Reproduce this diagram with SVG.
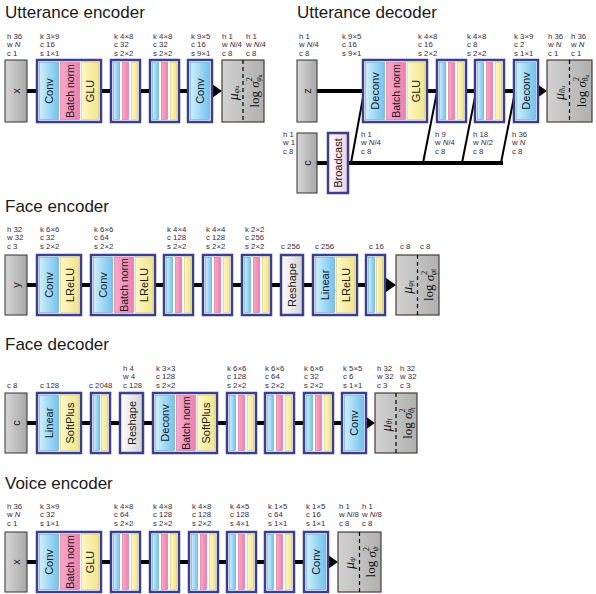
<svg xmlns="http://www.w3.org/2000/svg" width="596" height="594" viewBox="0 0 596 594">
<defs>
<linearGradient id="gb" x1="0" y1="0" x2="1" y2="0"><stop offset="0" stop-color="#cdeffc"/><stop offset="1" stop-color="#74c2ec"/></linearGradient>
<linearGradient id="gp" x1="0" y1="0" x2="1" y2="0"><stop offset="0" stop-color="#f8a9c9"/><stop offset="1" stop-color="#ef80ad"/></linearGradient>
<linearGradient id="gy" x1="0" y1="0" x2="1" y2="0"><stop offset="0" stop-color="#fdf8c6"/><stop offset="1" stop-color="#f3e48c"/></linearGradient>
<linearGradient id="gg" x1="0" y1="0" x2="1" y2="0"><stop offset="0" stop-color="#d6d6d6"/><stop offset="1" stop-color="#a8a8a8"/></linearGradient>
<linearGradient id="go" x1="0" y1="0" x2="1" y2="0"><stop offset="0" stop-color="#d2d2d2"/><stop offset="1" stop-color="#b0b0b0"/></linearGradient>
<linearGradient id="gr" x1="0" y1="0" x2="1" y2="0"><stop offset="0" stop-color="#ffffff"/><stop offset="1" stop-color="#d2d2d2"/></linearGradient>
<linearGradient id="gc" x1="0" y1="0" x2="1" y2="0"><stop offset="0" stop-color="#ffffff"/><stop offset="1" stop-color="#f0d0e0"/></linearGradient>
<marker id="ah" markerUnits="userSpaceOnUse" markerWidth="10" markerHeight="14" viewBox="0 0 10 14" refX="0" refY="7" orient="auto"><path d="M0,0 L10,7 L0,14 Z" fill="#000"/></marker>
</defs>
<style>
.t{font-family:"Liberation Sans",Arial,sans-serif;font-size:17px;fill:#1a1a1a}
.l{font-family:"Liberation Sans",Arial,sans-serif;font-size:7.8px;fill:#3a2a3a}
.r{font-family:"Liberation Sans",Arial,sans-serif;font-size:11px;fill:#1a1a1a;text-anchor:middle;dominant-baseline:central}
.bn{font-size:10.5px}
.g{fill:#fff;stroke:#3c3f8e;stroke-width:2.5}
.rs{fill:url(#gr);stroke:#3c3f8e;stroke-width:2.5}
.bc{fill:url(#gc);stroke:#3c3f8e;stroke-width:2.5}
.b{fill:url(#gb);stroke:#5aa6d0;stroke-width:.6}
.p{fill:url(#gp);stroke:#d86a98;stroke-width:.6}
.y{fill:url(#gy);stroke:#d8c870;stroke-width:.6}
.in{fill:url(#gg);stroke:#333;stroke-width:1}
.out{fill:url(#go);stroke:#4a3a35;stroke-width:1.2}
.dash{stroke:#000;stroke-width:1.2;stroke-dasharray:4 3}
.ln{stroke:#000;stroke-width:4;fill:none}
.ar{stroke:#000;stroke-width:4;fill:none;marker-end:url(#ah)}
.dg{stroke:#000;stroke-width:2;fill:none}
.m{font-family:"Liberation Serif","Times New Roman",serif;font-size:13px;fill:#111;text-anchor:middle;dominant-baseline:central}
.i{font-style:italic}
</style>
<rect width="596" height="594" fill="#fff"/>

<text class="t" x="5" y="18">Utterance encoder</text>
<text class="t" x="297" y="18">Utterance decoder</text>
<text class="t" x="5" y="212">Face encoder</text>
<text class="t" x="5" y="350">Face decoder</text>
<text class="t" x="5" y="489">Voice encoder</text>

<g id="connectors">
<path class="ln" d="M27 91H37M101 91H111M140 91H150M179 91H188"/>
<path class="ar" d="M211 91H212"/>
<path class="ln" d="M317 91H363M427 91H437M466 91H475M504 91H514"/>
<path class="ar" d="M536 91H537"/>
<path class="ln" d="M317 163H328M348 163H503"/>
<path class="dg" d="M351 163L364 92M423 163L437 92M462 163L476 92M501 163L515 92"/>
<path class="ln" d="M27 285H37M81 285H91M155 285H164M193 285H203M232 285H242M271 285H281M303 285H313M357 285H366"/>
<path class="ar" d="M385 285H386"/>
<path class="ln" d="M27 423H37M81 423H91M110 423H120M143 423H153M217 423H227M256 423H265M294 423H304M333 423H342"/>
<path class="ar" d="M364 423H365"/>
<path class="ln" d="M27 562H37M101 562H111M140 562H150M179 562H189M218 562H227M256 562H265M294 562H304"/>
<path class="ar" d="M327 562H328"/>
</g>

<!-- Utterance encoder -->
<g id="ue-x"><rect class="in" x="5" y="60" width="22" height="62"/><text class="r" transform="translate(16,91) rotate(-90)" font-size="12">x</text>
<text class="l" y="38.5"><tspan x="7">h 36</tspan><tspan x="7" dy="8.8">w <tspan class="i">N</tspan></tspan><tspan x="7" dy="8.8">c 1</tspan></text></g>
<g id="ue-conv"><rect class="g" x="37" y="60" width="64" height="62"/><rect class="b" x="39.5" y="62.5" width="19" height="57"/><rect class="p" x="60.5" y="62.5" width="19" height="57"/><rect class="y" x="81.5" y="62.5" width="17" height="57"/>
<text class="r" transform="translate(49,91) rotate(-90)">Conv</text><text class="r bn" transform="translate(70,91) rotate(-90)">Batch norm</text><text class="r" transform="translate(90,91) rotate(-90)">GLU</text>
<text class="l" y="38.5"><tspan x="40">k 3×9</tspan><tspan x="40" dy="8.8">c 16</tspan><tspan x="40" dy="8.8">s 1×1</tspan></text></g>
<g id="ue-s1"><rect class="g" x="111" y="60" width="29" height="62"/><rect class="b" x="113.5" y="62.5" width="6" height="57"/><rect class="p" x="122.5" y="62.5" width="6" height="57"/><rect class="y" x="131.5" y="62.5" width="6" height="57"/>
<text class="l" y="38.5"><tspan x="114">k 4×8</tspan><tspan x="114" dy="8.8">c 32</tspan><tspan x="114" dy="8.8">s 2×2</tspan></text></g>
<g id="ue-s2"><rect class="g" x="150" y="60" width="29" height="62"/><rect class="b" x="152.5" y="62.5" width="6" height="57"/><rect class="p" x="161.5" y="62.5" width="6" height="57"/><rect class="y" x="170.5" y="62.5" width="6" height="57"/>
<text class="l" y="38.5"><tspan x="153">k 4×8</tspan><tspan x="153" dy="8.8">c 32</tspan><tspan x="153" dy="8.8">s 2×2</tspan></text></g>
<g id="ue-conv2"><rect class="g" x="188" y="60" width="24" height="62"/><rect class="b" x="190.5" y="62.5" width="19" height="57"/><text class="r" transform="translate(200,91) rotate(-90)">Conv</text>
<text class="l" y="38.5"><tspan x="191">k 9×5</tspan><tspan x="191" dy="8.8">c 16</tspan><tspan x="191" dy="8.8">s 9×1</tspan></text></g>
<g id="ue-out"><rect class="out" x="222" y="60" width="42" height="62"/><line class="dash" x1="243" y1="60" x2="243" y2="122"/>
<text class="m" transform="translate(232.5,93) rotate(-90)"><tspan class="i" font-size="14">μ</tspan><tspan class="i" font-size="8" dy="3">φ</tspan><tspan font-size="6" dy="1.5">u</tspan></text>
<text class="m" transform="translate(254,91) rotate(-90)">log <tspan class="i">σ</tspan><tspan font-size="8" dy="-5">2</tspan><tspan class="i" font-size="8" dx="-4.5" dy="9">φ</tspan><tspan font-size="6" dy="1.5">u</tspan></text>
<text class="l" y="38.5"><tspan x="222">h 1</tspan><tspan x="222" dy="8.8">w <tspan class="i">N</tspan>/4</tspan><tspan x="222" dy="8.8">c 8</tspan></text>
<text class="l" y="38.5"><tspan x="246">h 1</tspan><tspan x="246" dy="8.8">w <tspan class="i">N</tspan>/4</tspan><tspan x="246" dy="8.8">c 8</tspan></text></g>

<!-- Utterance decoder -->
<g id="ud-z"><rect class="in" x="297" y="60" width="20" height="62"/><text class="r" transform="translate(307,91) rotate(-90)" font-size="12">z</text>
<text class="l" y="38.5"><tspan x="299">h 1</tspan><tspan x="299" dy="8.8">w <tspan class="i">N</tspan>/4</tspan><tspan x="299" dy="8.8">c 8</tspan></text></g>
<g id="ud-c"><rect class="in" x="297" y="133" width="20" height="60"/><text class="r" transform="translate(307,163) rotate(-90)" font-size="12">c</text>
<text class="l" y="136.5"><tspan x="283">h 1</tspan><tspan x="283" dy="8.8">w 1</tspan><tspan x="283" dy="8.8">c 8</tspan></text></g>
<g id="ud-bc"><rect class="bc" x="328" y="133" width="20" height="60"/><text class="r" transform="translate(338,163) rotate(-90)">Broadcast</text></g>
<g id="ud-dc"><rect class="g" x="363" y="60" width="64" height="62"/><rect class="b" x="365.5" y="62.5" width="19" height="57"/><rect class="p" x="386.5" y="62.5" width="19" height="57"/><rect class="y" x="407.5" y="62.5" width="17" height="57"/>
<text class="r" transform="translate(375,91) rotate(-90)">Deconv</text><text class="r bn" transform="translate(396,91) rotate(-90)">Batch norm</text><text class="r" transform="translate(416,91) rotate(-90)">GLU</text>
<text class="l" y="38.5"><tspan x="342">k 9×5</tspan><tspan x="342" dy="8.8">c 16</tspan><tspan x="342" dy="8.8">s 9×1</tspan></text></g>
<g id="ud-s1"><rect class="g" x="437" y="60" width="29" height="62"/><rect class="b" x="439.5" y="62.5" width="6" height="57"/><rect class="p" x="448.5" y="62.5" width="6" height="57"/><rect class="y" x="457.5" y="62.5" width="6" height="57"/>
<text class="l" y="38.5"><tspan x="418">k 4×8</tspan><tspan x="418" dy="8.8">c 16</tspan><tspan x="418" dy="8.8">s 2×2</tspan></text></g>
<g id="ud-s2"><rect class="g" x="475" y="60" width="29" height="62"/><rect class="b" x="477.5" y="62.5" width="6" height="57"/><rect class="p" x="486.5" y="62.5" width="6" height="57"/><rect class="y" x="495.5" y="62.5" width="6" height="57"/>
<text class="l" y="38.5"><tspan x="467">k 4×8</tspan><tspan x="467" dy="8.8">c 8</tspan><tspan x="467" dy="8.8">s 2×2</tspan></text></g>
<g id="ud-dc2"><rect class="g" x="514" y="60" width="24" height="62"/><rect class="b" x="516.5" y="62.5" width="19" height="57"/><text class="r" transform="translate(526,91) rotate(-90)">Deconv</text>
<text class="l" y="38.5"><tspan x="514">k 3×9</tspan><tspan x="514" dy="8.8">c 2</tspan><tspan x="514" dy="8.8">s 1×1</tspan></text></g>
<g id="ud-out"><rect class="out" x="547" y="60" width="45" height="62"/><line class="dash" x1="569.5" y1="60" x2="569.5" y2="122"/>
<text class="m" transform="translate(558.5,93) rotate(-90)"><tspan class="i" font-size="14">μ</tspan><tspan class="i" font-size="8" dy="3">θ</tspan><tspan font-size="6" dy="1.5">u</tspan></text>
<text class="m" transform="translate(581,91) rotate(-90)">log <tspan class="i">σ</tspan><tspan font-size="8" dy="-5">2</tspan><tspan class="i" font-size="8" dx="-4.5" dy="9">θ</tspan><tspan font-size="6" dy="1.5">u</tspan></text>
<text class="l" y="38.5"><tspan x="548">h 36</tspan><tspan x="548" dy="8.8">w <tspan class="i">N</tspan></tspan><tspan x="548" dy="8.8">c 1</tspan></text>
<text class="l" y="38.5"><tspan x="571">h 36</tspan><tspan x="571" dy="8.8">w <tspan class="i">N</tspan></tspan><tspan x="571" dy="8.8">c 1</tspan></text></g>
<g id="ud-shapes">
<text class="l" y="136.5"><tspan x="361">h 1</tspan><tspan x="361" dy="8.8">w <tspan class="i">N</tspan>/4</tspan><tspan x="361" dy="8.8">c 8</tspan></text>
<text class="l" y="136.5"><tspan x="435">h 9</tspan><tspan x="435" dy="8.8">w <tspan class="i">N</tspan>/4</tspan><tspan x="435" dy="8.8">c 8</tspan></text>
<text class="l" y="136.5"><tspan x="473">h 18</tspan><tspan x="473" dy="8.8">w <tspan class="i">N</tspan>/2</tspan><tspan x="473" dy="8.8">c 8</tspan></text>
<text class="l" y="136.5"><tspan x="512">h 36</tspan><tspan x="512" dy="8.8">w <tspan class="i">N</tspan></tspan><tspan x="512" dy="8.8">c 8</tspan></text>
</g>

<!-- Face encoder -->
<g id="fe-y"><rect class="in" x="5" y="255" width="22" height="60"/><text class="r" transform="translate(16,285) rotate(-90)" font-size="12">y</text>
<text class="l" y="231.5"><tspan x="7">h 32</tspan><tspan x="7" dy="8.8">w 32</tspan><tspan x="7" dy="8.8">c 3</tspan></text></g>
<g id="fe-c1"><rect class="g" x="37" y="255" width="44" height="60"/><rect class="b" x="39.5" y="257.5" width="19" height="55"/><rect class="y" x="60.5" y="257.5" width="18" height="55"/>
<text class="r" transform="translate(49,285) rotate(-90)">Conv</text><text class="r" transform="translate(69.5,285) rotate(-90)">LReLU</text>
<text class="l" y="231.5"><tspan x="40">k 6×6</tspan><tspan x="40" dy="8.8">c 32</tspan><tspan x="40" dy="8.8">s 2×2</tspan></text></g>
<g id="fe-c2"><rect class="g" x="91" y="255" width="64" height="60"/><rect class="b" x="93.5" y="257.5" width="19" height="55"/><rect class="p" x="114.5" y="257.5" width="19" height="55"/><rect class="y" x="135.5" y="257.5" width="17" height="55"/>
<text class="r" transform="translate(103,285) rotate(-90)">Conv</text><text class="r bn" transform="translate(124,285) rotate(-90)">Batch norm</text><text class="r" transform="translate(144,285) rotate(-90)">LReLU</text>
<text class="l" y="231.5"><tspan x="94">k 6×6</tspan><tspan x="94" dy="8.8">c 64</tspan><tspan x="94" dy="8.8">s 2×2</tspan></text></g>
<g id="fe-s1"><rect class="g" x="164" y="255" width="29" height="60"/><rect class="b" x="166.5" y="257.5" width="6" height="55"/><rect class="p" x="175.5" y="257.5" width="6" height="55"/><rect class="y" x="184.5" y="257.5" width="6" height="55"/>
<text class="l" y="231.5"><tspan x="167">k 4×4</tspan><tspan x="167" dy="8.8">c 128</tspan><tspan x="167" dy="8.8">s 2×2</tspan></text></g>
<g id="fe-s2"><rect class="g" x="203" y="255" width="29" height="60"/><rect class="b" x="205.5" y="257.5" width="6" height="55"/><rect class="p" x="214.5" y="257.5" width="6" height="55"/><rect class="y" x="223.5" y="257.5" width="6" height="55"/>
<text class="l" y="231.5"><tspan x="206">k 4×4</tspan><tspan x="206" dy="8.8">c 128</tspan><tspan x="206" dy="8.8">s 2×2</tspan></text></g>
<g id="fe-s3"><rect class="g" x="242" y="255" width="29" height="60"/><rect class="b" x="244.5" y="257.5" width="6" height="55"/><rect class="p" x="253.5" y="257.5" width="6" height="55"/><rect class="y" x="262.5" y="257.5" width="6" height="55"/>
<text class="l" y="231.5"><tspan x="245">k 2×2</tspan><tspan x="245" dy="8.8">c 256</tspan><tspan x="245" dy="8.8">s 2×2</tspan></text></g>
<g id="fe-rs"><rect class="rs" x="281" y="255" width="22" height="60"/><text class="r" transform="translate(292,285) rotate(-90)">Reshape</text>
<text class="l" x="281" y="249">c 256</text></g>
<g id="fe-lin"><rect class="g" x="313" y="255" width="44" height="60"/><rect class="b" x="315.5" y="257.5" width="19" height="55"/><rect class="y" x="336.5" y="257.5" width="18" height="55"/>
<text class="r" transform="translate(325,285) rotate(-90)">Linear</text><text class="r" transform="translate(345.5,285) rotate(-90)">LReLU</text>
<text class="l" x="315" y="249">c 256</text></g>
<g id="fe-s4"><rect class="g" x="366" y="255" width="19" height="60"/><rect class="b" x="368.5" y="257.5" width="6" height="55"/><rect class="y" x="376.5" y="257.5" width="6" height="55"/>
<text class="l" x="369" y="249">c 16</text></g>
<g id="fe-out"><rect class="out" x="396" y="255" width="43" height="60"/><line class="dash" x1="417.5" y1="255" x2="417.5" y2="315"/>
<text class="m" transform="translate(407,287) rotate(-90)"><tspan class="i" font-size="14">μ</tspan><tspan class="i" font-size="8" dy="3">φ</tspan><tspan font-size="6" dy="1.5">f</tspan></text>
<text class="m" transform="translate(428.5,285) rotate(-90)">log <tspan class="i">σ</tspan><tspan font-size="8" dy="-5">2</tspan><tspan class="i" font-size="8" dx="-4.5" dy="9">φ</tspan><tspan font-size="6" dy="1.5">f</tspan></text>
<text class="l" x="400" y="249">c 8</text><text class="l" x="420" y="249">c 8</text></g>

<!-- Face decoder -->
<g id="fd-c"><rect class="in" x="5" y="393" width="22" height="60"/><text class="r" transform="translate(16,423) rotate(-90)" font-size="12">c</text>
<text class="l" x="7" y="388">c 8</text></g>
<g id="fd-lin"><rect class="g" x="37" y="393" width="44" height="60"/><rect class="b" x="39.5" y="395.5" width="19" height="55"/><rect class="y" x="60.5" y="395.5" width="18" height="55"/>
<text class="r" transform="translate(49,423) rotate(-90)">Linear</text><text class="r" transform="translate(69.5,423) rotate(-90)">SoftPlus</text>
<text class="l" x="40" y="388">c 128</text></g>
<g id="fd-s1"><rect class="g" x="91" y="393" width="19" height="60"/><rect class="b" x="93.5" y="395.5" width="6" height="55"/><rect class="y" x="101.5" y="395.5" width="6" height="55"/>
<text class="l" x="89" y="388">c 2048</text></g>
<g id="fd-rs"><rect class="rs" x="120" y="393" width="23" height="60"/><text class="r" transform="translate(131.5,423) rotate(-90)">Reshape</text>
<text class="l" y="370.5"><tspan x="123">h 4</tspan><tspan x="123" dy="8.8">w 4</tspan><tspan x="123" dy="8.8">c 128</tspan></text></g>
<g id="fd-dc"><rect class="g" x="153" y="393" width="64" height="60"/><rect class="b" x="155.5" y="395.5" width="19" height="55"/><rect class="p" x="176.5" y="395.5" width="19" height="55"/><rect class="y" x="197.5" y="395.5" width="17" height="55"/>
<text class="r" transform="translate(165,423) rotate(-90)">Deconv</text><text class="r bn" transform="translate(186,423) rotate(-90)">Batch norm</text><text class="r" transform="translate(206,423) rotate(-90)">SoftPlus</text>
<text class="l" y="370.5"><tspan x="156">k 3×3</tspan><tspan x="156" dy="8.8">c 128</tspan><tspan x="156" dy="8.8">s 2×2</tspan></text></g>
<g id="fd-s2"><rect class="g" x="227" y="393" width="29" height="60"/><rect class="b" x="229.5" y="395.5" width="6" height="55"/><rect class="p" x="238.5" y="395.5" width="6" height="55"/><rect class="y" x="247.5" y="395.5" width="6" height="55"/>
<text class="l" y="370.5"><tspan x="227">k 6×6</tspan><tspan x="227" dy="8.8">c 128</tspan><tspan x="227" dy="8.8">s 2×2</tspan></text></g>
<g id="fd-s3"><rect class="g" x="265" y="393" width="29" height="60"/><rect class="b" x="267.5" y="395.5" width="6" height="55"/><rect class="p" x="276.5" y="395.5" width="6" height="55"/><rect class="y" x="285.5" y="395.5" width="6" height="55"/>
<text class="l" y="370.5"><tspan x="265">k 6×6</tspan><tspan x="265" dy="8.8">c 64</tspan><tspan x="265" dy="8.8">s 2×2</tspan></text></g>
<g id="fd-s4"><rect class="g" x="304" y="393" width="29" height="60"/><rect class="b" x="306.5" y="395.5" width="6" height="55"/><rect class="p" x="315.5" y="395.5" width="6" height="55"/><rect class="y" x="324.5" y="395.5" width="6" height="55"/>
<text class="l" y="370.5"><tspan x="304">k 6×6</tspan><tspan x="304" dy="8.8">c 32</tspan><tspan x="304" dy="8.8">s 2×2</tspan></text></g>
<g id="fd-conv"><rect class="g" x="342" y="393" width="24" height="60"/><rect class="b" x="344.5" y="395.5" width="19" height="55"/><text class="r" transform="translate(354,423) rotate(-90)">Conv</text>
<text class="l" y="370.5"><tspan x="343">k 5×5</tspan><tspan x="343" dy="8.8">c 6</tspan><tspan x="343" dy="8.8">s 1×1</tspan></text></g>
<g id="fd-out"><rect class="out" x="375" y="393" width="42" height="60"/><line class="dash" x1="396" y1="393" x2="396" y2="453"/>
<text class="m" transform="translate(385.5,425) rotate(-90)"><tspan class="i" font-size="14">μ</tspan><tspan class="i" font-size="8" dy="3">θ</tspan><tspan font-size="6" dy="1.5">f</tspan></text>
<text class="m" transform="translate(407,423) rotate(-90)">log <tspan class="i">σ</tspan><tspan font-size="8" dy="-5">2</tspan><tspan class="i" font-size="8" dx="-4.5" dy="9">θ</tspan><tspan font-size="6" dy="1.5">f</tspan></text>
<text class="l" y="370.5"><tspan x="377">h 32</tspan><tspan x="377" dy="8.8">w 32</tspan><tspan x="377" dy="8.8">c 3</tspan></text>
<text class="l" y="370.5"><tspan x="400">h 32</tspan><tspan x="400" dy="8.8">w 32</tspan><tspan x="400" dy="8.8">c 3</tspan></text></g>

<!-- Voice encoder -->
<g id="ve-x"><rect class="in" x="5" y="532" width="22" height="60"/><text class="r" transform="translate(16,562) rotate(-90)" font-size="12">x</text>
<text class="l" y="508.5"><tspan x="7">h 36</tspan><tspan x="7" dy="8.8">w <tspan class="i">N</tspan></tspan><tspan x="7" dy="8.8">c 1</tspan></text></g>
<g id="ve-conv"><rect class="g" x="37" y="532" width="64" height="60"/><rect class="b" x="39.5" y="534.5" width="19" height="55"/><rect class="p" x="60.5" y="534.5" width="19" height="55"/><rect class="y" x="81.5" y="534.5" width="17" height="55"/>
<text class="r" transform="translate(49,562) rotate(-90)">Conv</text><text class="r bn" transform="translate(70,562) rotate(-90)">Batch norm</text><text class="r" transform="translate(90,562) rotate(-90)">GLU</text>
<text class="l" y="508.5"><tspan x="40">k 3×9</tspan><tspan x="40" dy="8.8">c 32</tspan><tspan x="40" dy="8.8">s 1×1</tspan></text></g>
<g id="ve-s1"><rect class="g" x="111" y="532" width="29" height="60"/><rect class="b" x="113.5" y="534.5" width="6" height="55"/><rect class="p" x="122.5" y="534.5" width="6" height="55"/><rect class="y" x="131.5" y="534.5" width="6" height="55"/>
<text class="l" y="508.5"><tspan x="114">k 4×8</tspan><tspan x="114" dy="8.8">c 64</tspan><tspan x="114" dy="8.8">s 2×2</tspan></text></g>
<g id="ve-s2"><rect class="g" x="150" y="532" width="29" height="60"/><rect class="b" x="152.5" y="534.5" width="6" height="55"/><rect class="p" x="161.5" y="534.5" width="6" height="55"/><rect class="y" x="170.5" y="534.5" width="6" height="55"/>
<text class="l" y="508.5"><tspan x="153">k 4×8</tspan><tspan x="153" dy="8.8">c 128</tspan><tspan x="153" dy="8.8">s 2×2</tspan></text></g>
<g id="ve-s3"><rect class="g" x="189" y="532" width="29" height="60"/><rect class="b" x="191.5" y="534.5" width="6" height="55"/><rect class="p" x="200.5" y="534.5" width="6" height="55"/><rect class="y" x="209.5" y="534.5" width="6" height="55"/>
<text class="l" y="508.5"><tspan x="192">k 4×8</tspan><tspan x="192" dy="8.8">c 128</tspan><tspan x="192" dy="8.8">s 2×2</tspan></text></g>
<g id="ve-s4"><rect class="g" x="227" y="532" width="29" height="60"/><rect class="b" x="229.5" y="534.5" width="6" height="55"/><rect class="p" x="238.5" y="534.5" width="6" height="55"/><rect class="y" x="247.5" y="534.5" width="6" height="55"/>
<text class="l" y="508.5"><tspan x="230">k 4×5</tspan><tspan x="230" dy="8.8">c 128</tspan><tspan x="230" dy="8.8">s 4×1</tspan></text></g>
<g id="ve-s5"><rect class="g" x="265" y="532" width="29" height="60"/><rect class="b" x="267.5" y="534.5" width="6" height="55"/><rect class="p" x="276.5" y="534.5" width="6" height="55"/><rect class="y" x="285.5" y="534.5" width="6" height="55"/>
<text class="l" y="508.5"><tspan x="268">k 1×5</tspan><tspan x="268" dy="8.8">c 64</tspan><tspan x="268" dy="8.8">s 1×1</tspan></text></g>
<g id="ve-conv2"><rect class="g" x="304" y="532" width="24" height="60"/><rect class="b" x="306.5" y="534.5" width="19" height="55"/><text class="r" transform="translate(316,562) rotate(-90)">Conv</text>
<text class="l" y="508.5"><tspan x="306">k 1×5</tspan><tspan x="306" dy="8.8">c 16</tspan><tspan x="306" dy="8.8">s 1×1</tspan></text></g>
<g id="ve-out"><rect class="out" x="338" y="532" width="43" height="60"/><line class="dash" x1="359.5" y1="532" x2="359.5" y2="592"/>
<text class="m" transform="translate(349,563) rotate(-90)"><tspan class="i" font-size="14">μ</tspan><tspan class="i" font-size="8" dy="3">ψ</tspan></text>
<text class="m" transform="translate(370.5,562) rotate(-90)">log <tspan class="i">σ</tspan><tspan font-size="8" dy="-5">2</tspan><tspan class="i" font-size="8" dx="-4.5" dy="9">ψ</tspan></text>
<text class="l" y="508.5"><tspan x="339">h 1</tspan><tspan x="339" dy="8.8">w <tspan class="i">N</tspan>/8</tspan><tspan x="339" dy="8.8">c 8</tspan></text>
<text class="l" y="508.5"><tspan x="362">h 1</tspan><tspan x="362" dy="8.8">w <tspan class="i">N</tspan>/8</tspan><tspan x="362" dy="8.8">c 8</tspan></text></g>
</svg>
